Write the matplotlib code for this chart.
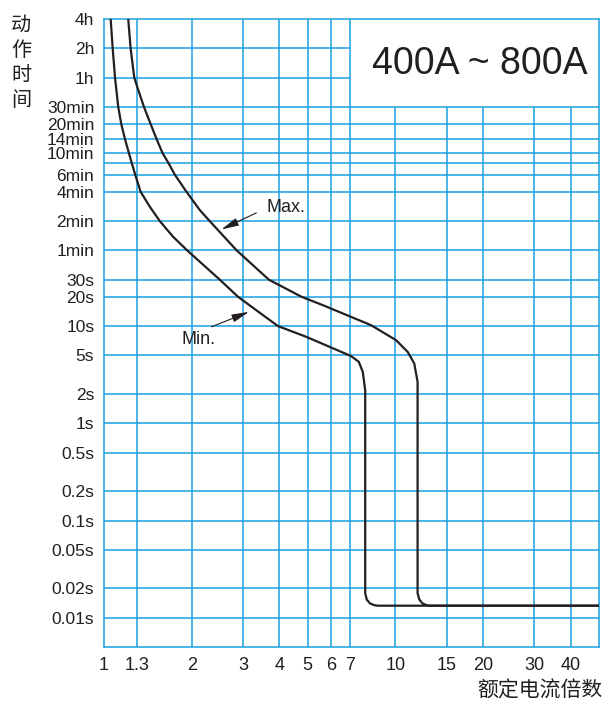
"""Time-current curve, 400A ~ 800A breaker."""

import matplotlib

matplotlib.use("Agg")
import matplotlib.pyplot as plt
from matplotlib.ticker import FixedLocator, NullLocator

plt.rcParams["font.family"] = ["Liberation Sans", "Noto Sans CJK SC", "DejaVu Sans"]

# multiples of rated current (x) and trip times in seconds (y)
x_ticks = [1, 1.3, 2, 3, 4, 5, 6, 7, 10, 15, 20, 30, 40]
x_tick_labels = ["1", "1.3", "2", "3", "4", "5", "6", "7", "10", "15", "20", "30", "40"]

y_ticks = [0.01, 0.02, 0.05, 0.1, 0.2, 0.5, 1, 2, 5, 10, 20, 30,
           60, 120, 240, 360, 600, 840, 1200, 1800, 3600, 7200, 14400]
y_tick_labels = ["0.01s", "0.02s", "0.05s", "0.1s", "0.2s", "0.5s", "1s", "2s", "5s",
                 "10s", "20s", "30s", "1min", "2min", "4min", "6min", "10min",
                 "14min", "20min", "30min", "1h", "2h", "4h"]
y_extra_grid = [480]  # unlabeled 8 min line

max_x = [1.211, 1.234, 1.270, 1.318, 1.371, 1.445, 1.515, 1.589, 1.661, 1.751,
         1.920, 2.132, 2.307, 2.854, 3.68, 4.765, 5.64, 8.26, 10.05, 11.02,
         11.61, 11.92, 11.92, 12.08, 12.41, 12.80, 13.08, 50]
max_t = [14400, 7200, 3600, 2553, 1800, 1200, 840, 600, 480, 360,
         240, 156, 120, 60, 30, 20, 16.4, 10.2, 7.17, 5.43,
         4.13, 2.67, 0.0179, 0.0154, 0.0140, 0.01346, 0.0133, 0.0133]

min_x = [1.054, 1.071, 1.091, 1.119, 1.146, 1.180, 1.218, 1.244, 1.280, 1.336,
         1.437, 1.555, 1.727, 1.93, 2.497, 2.884, 3.953, 4.946, 7.05, 7.49,
         7.73, 7.88, 7.88, 7.975, 8.19, 8.47, 8.68, 50]
min_t = [14400, 7200, 3600, 1800, 1200, 840, 600, 480, 360, 240,
         168.6, 120, 82.8, 60, 30, 20, 10, 7.75, 4.91, 4.29,
         3.38, 2.19, 0.0179, 0.0154, 0.0140, 0.01346, 0.0133, 0.0133]

x_range = (1, 50)
t_range = (0.005, 14400)
box_x = 7        # title box: left edge (x multiple)
box_t = 1800     # title box: bottom edge (30 min)

grid_color = "#1ba1e2"
ink = "#231f20"

fig = plt.figure(figsize=(6.06, 7.04), dpi=100)
ax = fig.add_axes([104 / 606, 57 / 704, 495 / 606, 628 / 704])
ax.set_xscale("log")
ax.set_yscale("log")
ax.set_xlim(*x_range)
ax.set_ylim(*t_range)

# grid, leaving the upper-right title box clear
for x in x_ticks[1:]:
    top = box_t if x > box_x else t_range[1]
    ax.vlines(x, t_range[0], top, color=grid_color, lw=1.1, zorder=1)
for t in y_ticks[:-1] + y_extra_grid:
    right = box_x if t > box_t else x_range[1]
    ax.hlines(t, x_range[0], right, color=grid_color, lw=1.1, zorder=1)

for s in ax.spines.values():
    s.set_color(grid_color)
    s.set_linewidth(1.1)

ax.plot(max_x, max_t, color=ink, lw=1.6, solid_joinstyle="round", zorder=3)
ax.plot(min_x, min_t, color=ink, lw=1.6, solid_joinstyle="round", zorder=3)

ax.xaxis.set_major_locator(FixedLocator(x_ticks))
ax.xaxis.set_minor_locator(NullLocator())
ax.set_xticklabels(x_tick_labels, fontsize=13)
ax.yaxis.set_major_locator(FixedLocator(y_ticks))
ax.yaxis.set_minor_locator(NullLocator())
ax.set_yticklabels(y_tick_labels, fontsize=12.5)
ax.tick_params(length=0, pad=7, colors=ink)

arrow = dict(arrowstyle="-|>,head_length=0.7,head_width=0.16", color=ink,
             lw=0.8, mutation_scale=15, shrinkA=0, shrinkB=0)
ax.annotate("", xy=(2.530, 98.7), xytext=(3.334, 146), arrowprops=arrow)
ax.text(3.615, 167, "Max.", fontsize=13, color=ink, ha="left", va="center")
ax.annotate("", xy=(3.145, 14.0), xytext=(2.338, 9.83), arrowprops=arrow)
ax.text(1.846, 7.34, "Min.", fontsize=13, color=ink, ha="left", va="center")

ax.text(0.76, 0.928, "400A ~ 800A", transform=ax.transAxes, fontsize=27,
        color=ink, ha="center", va="center")

# stacked vertical y label and x label
for i, ch in enumerate("动作时间"):
    fig.text(21 / 606, 1 - (25.5 + 25 * i) / 704, ch, fontsize=14.5, color=ink,
             ha="center", va="center")
fig.text(602 / 606, 1 - 691 / 704, "额定电流倍数", fontsize=15, color=ink,
         ha="right", va="center")

fig.savefig("out.png", dpi=100)
